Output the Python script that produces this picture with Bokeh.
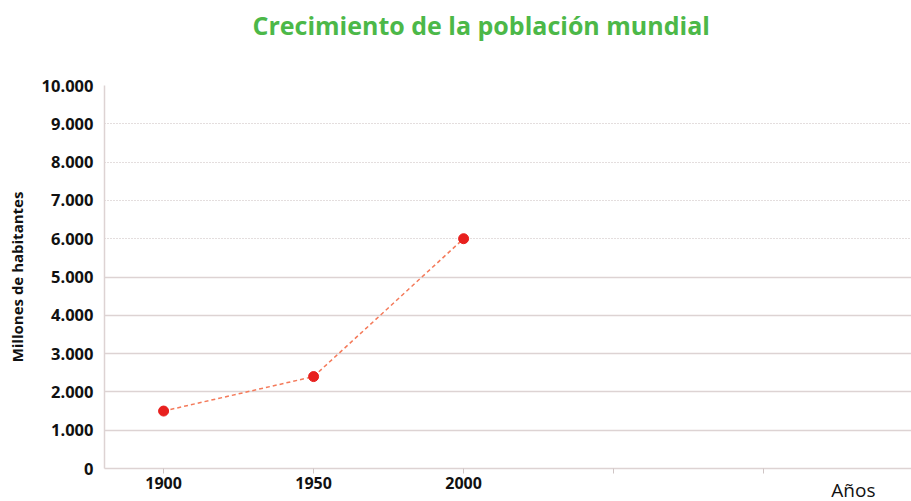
from bokeh.plotting import figure
from bokeh.models import FixedTicker, Grid, Range1d, Title
from bokeh.embed import file_html
from bokeh.resources import INLINE

# ---- data ----
years = [1900, 1950, 2000]
population = [1500, 2400, 6000]  # millones de habitantes
y_ticks = [0, 1000, 2000, 3000, 4000, 5000, 6000, 7000, 8000, 9000, 10000]
y_tick_labels = ["0", "1.000", "2.000", "3.000", "4.000", "5.000",
                 "6.000", "7.000", "8.000", "9.000", "10.000"]
x_ticks = [1900, 1950, 2000, 2050, 2100]
x_tick_labels = ["1900", "1950", "2000", "", ""]
solid_grid = [1000, 2000, 3000, 4000, 5000]
dotted_grid = [6000, 7000, 8000, 9000, 10000]
title_text = "Crecimiento de la población mundial"
y_label = "Millones de habitantes"
x_label = "Años"

GRID = "#ddd3d3"
FONT = "Open Sans"

p = figure(width=911, height=501, output_backend="svg", toolbar_location=None,
           x_range=Range1d(1880.3, 2149.3), y_range=Range1d(0, 10000),
           min_border_left=104, min_border_right=0, min_border_top=85,
           min_border_bottom=33, outline_line_color=None)

# spacer between frame and title (closest to the frame), then the title
p.add_layout(Title(text=" ", text_font_size="12px", standoff=28), "above")
p.add_layout(Title(text=title_text, text_color="#4cb848", text_font=FONT,
                   text_font_size="25px", text_font_style="bold", align="left",
                   offset=148, standoff=0), "above")

p.add_layout(Title(text=x_label, text_font=FONT, text_font_size="19px",
                   text_font_style="normal", text_color="#111111",
                   align="right", vertical_align="top", offset=36,
                   standoff=-30), "below")

p.xgrid.visible = False
p.ygrid.visible = False
p.add_layout(Grid(dimension=1, ticker=FixedTicker(ticks=solid_grid),
                  grid_line_color=GRID, grid_line_width=1.5))
p.add_layout(Grid(dimension=1, ticker=FixedTicker(ticks=dotted_grid),
                  grid_line_color="#c9bdbd", grid_line_width=1,
                  grid_line_dash="1 2"))

# y axis
p.yaxis.ticker = FixedTicker(ticks=y_ticks)
p.yaxis.major_label_overrides = {t: l for t, l in zip(y_ticks, y_tick_labels)}
p.yaxis.major_tick_line_color = None
p.yaxis.minor_tick_line_color = None
p.yaxis.axis_line_color = GRID
p.yaxis.axis_line_width = 1.5
p.yaxis.major_label_text_font = FONT
p.yaxis.major_label_text_font_style = "bold"
p.yaxis.major_label_text_font_size = "16.5px"
p.yaxis.major_label_text_color = "#111111"
p.yaxis.major_label_standoff = 5
p.yaxis.axis_label = y_label
p.yaxis.axis_label_text_font = FONT
p.yaxis.axis_label_text_font_style = "bold"
p.yaxis.axis_label_text_font_size = "15px"
p.yaxis.axis_label_text_color = "#111111"
p.yaxis.axis_label_standoff = 12

# x axis
p.xaxis.ticker = FixedTicker(ticks=x_ticks)
p.xaxis.major_label_overrides = {t: l for t, l in zip(x_ticks, x_tick_labels)}
p.xaxis.axis_line_color = GRID
p.xaxis.axis_line_width = 1.5
p.xaxis.major_tick_line_color = "#cfc5c5"
p.xaxis.major_tick_out = 5
p.xaxis.major_tick_in = 0
p.xaxis.minor_tick_line_color = None
p.xaxis.major_label_text_font = FONT
p.xaxis.major_label_text_font_style = "bold"
p.xaxis.major_label_text_font_size = "16px"
p.xaxis.major_label_text_color = "#111111"
p.xaxis.major_label_standoff = 3

# data
p.line(years, population, line_color="#f47a5a", line_width=1.5, line_dash="4 3")
p.scatter(years, population, size=10, fill_color="#e8201e", line_color="#e8201e")

open("out.html", "w").write(file_html(p, INLINE))
